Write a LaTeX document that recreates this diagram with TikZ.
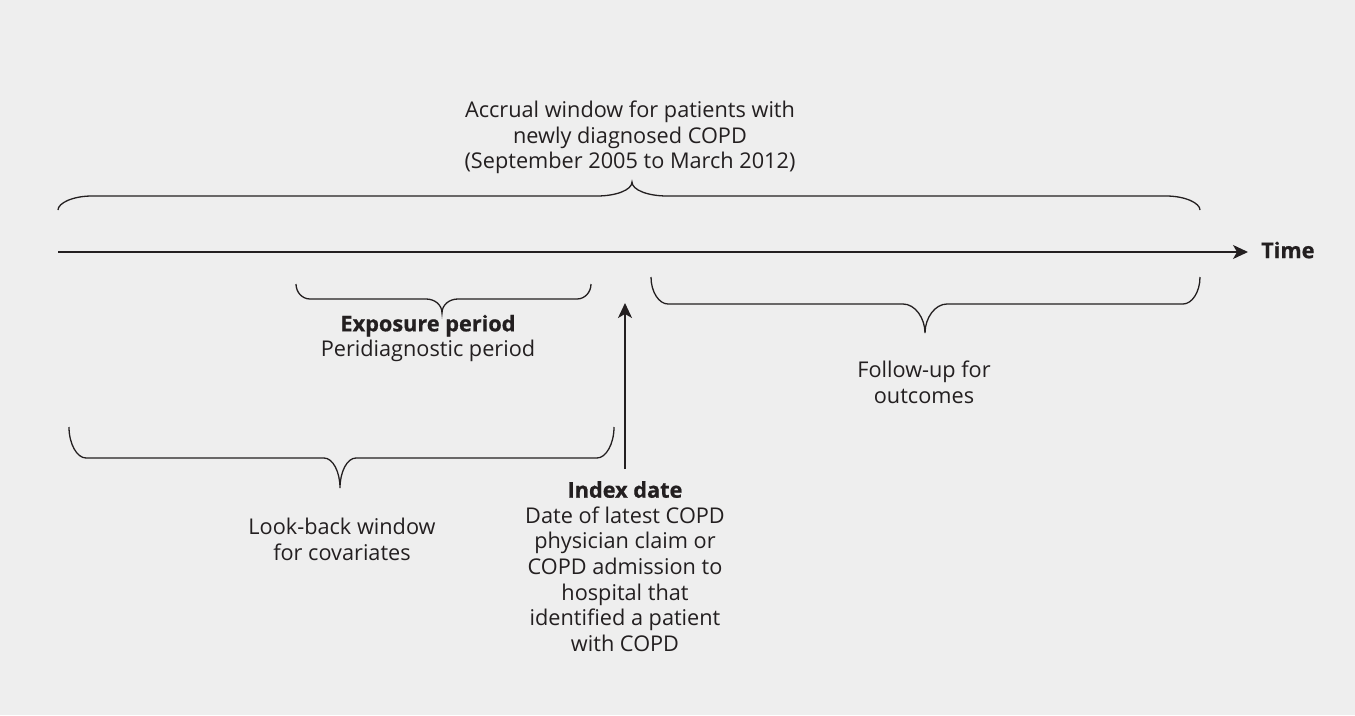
\documentclass[tikz,border=0pt]{standalone}
\usepackage{fontspec}
\setmainfont{Open Sans}[BoldFeatures={FakeBold=0.8}]
\usetikzlibrary{arrows.meta}
\definecolor{bg}{RGB}{238,238,238}
\definecolor{ink}{RGB}{35,31,32}
\begin{document}
\begin{tikzpicture}[x=1pt,y=-1pt,
  brace/.style={draw=ink,line width=1.3pt},
  arr/.style={draw=ink,line width=1.3pt,-{Stealth[length=15pt,width=14pt,inset=4pt]}},
  lbl/.style={text=ink,align=center,font=\fontsize{21.7}{25.6}\selectfont,inner sep=0pt},
  blbl/.style={lbl,font=\fontsize{21.7}{25.6}\selectfont\bfseries}]
\fill[bg] (0,0) rectangle (1355,715);
\useasboundingbox (0,0) rectangle (1355,715);
% time axis
\coordinate (t0) at (58,252);
\coordinate (t1) at (1248,252);
\draw[arr] (t0) -- (t1);
\node[blbl,anchor=west] (time) at (1261,250) {Time};
% accrual brace
\draw[brace] (58,210) .. controls (58,203) and (73,196) .. (92,196) -- (597,196) .. controls (616,196) and (632,190) .. (632,182) .. controls (632,190) and (648,196) .. (667,196) -- (1166,196) .. controls (1185,196) and (1200,203) .. (1200,210);
\node[lbl] (accrual) at (630,137.5) {Accrual window for patients with\\newly diagnosed COPD\\(September 2005 to March 2012)};
% exposure brace
\draw[brace] (296,284) .. controls (296,292) and (302,299) .. (310,299) -- (426,299) .. controls (435,299) and (442,305) .. (442,313) .. controls (442,305) and (449,299) .. (458,299) -- (577,299) .. controls (585,299) and (591,292) .. (591,284);
\node[lbl] (expo) at (428,338.5) {\textbf{Exposure period}\\Peridiagnostic period};
% follow-up brace
\draw[brace] (651,277) .. controls (651,292) and (659,304) .. (668,304) -- (903,304) .. controls (915,304) and (925,318) .. (925,333) .. controls (925,318) and (935,304) .. (947,304) -- (1183,304) .. controls (1192,304) and (1200,292) .. (1200,277);
\node[lbl] (follow) at (924,382.5) {Follow-up for\\outcomes};
% look-back brace
\draw[brace] (69,427) .. controls (69,444) and (77,458) .. (86,458) -- (324,458) .. controls (333,458) and (340,472) .. (340,488) .. controls (340,472) and (347,458) .. (356,458) -- (597,458) .. controls (606,458) and (614,444) .. (614,427);
\node[lbl] (look) at (342,539.5) {Look-back window\\for covariates};
% index date
\node[lbl,anchor=north] (index) at (625,481) {\textbf{Index date}\\Date of latest COPD\\physician claim or\\COPD admission to\\hospital that\\identified a patient\\with COPD};
\coordinate (ibase) at (625,469);
\coordinate (itip) at (625,303);
\draw[arr] (ibase) -- (itip);
\end{tikzpicture}
\end{document}
